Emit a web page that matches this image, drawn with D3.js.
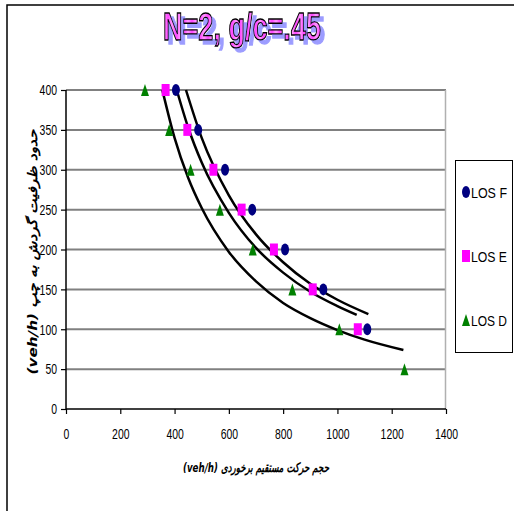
<!DOCTYPE html>
<html>
<head>
<meta charset="utf-8">
<script src="https://cdn.jsdelivr.net/npm/d3@7"></script>
<style>
  html, body { margin: 0; padding: 0; background: #fff; }
  svg { display: block; }
</style>
</head>
<body>
<svg id="chart" width="514" height="511"></svg>
<script>
// ---- data ----
const titleText = "N=2, g/c=.45";
const xTickValues = [0, 200, 400, 600, 800, 1000, 1200, 1400];
const yTickValues = [0, 50, 100, 150, 200, 250, 300, 350, 400];
const capacity = [400, 350, 300, 250, 200, 150, 100, 50];
const losF = [405, 487, 586, 686, 807, 948, 1110];
const losE = [367, 447, 543, 647, 766, 909, 1075];
const losD = [291, 380, 459, 567, 688, 834, 1007, 1247];
// trend lines, points
const trendFx = [442, 500, 600, 700, 800, 900, 1000, 1114];
const trendFy = [400, 340, 268, 219, 184, 157, 137, 119];
const trendEx = [408, 450, 500, 600, 700, 800, 900, 1000, 1071];
const trendEy = [400, 353, 309, 246, 202, 171, 147, 129, 118];
const trendDx = [355, 400, 450, 500, 600, 700, 800, 900, 1000, 1100, 1243];
const trendDy = [400, 340, 290, 252, 197, 160, 133, 114, 99, 87, 74];
const legendLabels = ["LOS F", "LOS E", "LOS D"];
const xTitle = "(veh/h) حجم حرکت مستقیم برخوردی";
const yTitle = "(veh/h) حدود ظرفیت گردش به چپ";

const svg = d3.select("#chart");
const x = d3.scaleLinear().domain([0, 1400]).range([66, 446]);
const y = d3.scaleLinear().domain([0, 400]).range([409, 90]);
const narrow = "'Liberation Sans Narrow', 'Liberation Sans', Arial, sans-serif";

// outer border
svg.append("path").attr("d", "M7,511V5H514").attr("fill", "none")
  .attr("stroke", "#000").attr("stroke-width", 1.5);

// defs: title gradient, title shadow, plot clip
const defs = svg.append("defs");
const grad = defs.append("linearGradient").attr("id", "tg")
  .attr("x1", 0).attr("x2", 8).attr("y1", 0).attr("y2", 0)
  .attr("spreadMethod", "repeat").attr("gradientUnits", "userSpaceOnUse");
grad.append("stop").attr("offset", "0").attr("stop-color", "#ff44ff");
grad.append("stop").attr("offset", "0.5").attr("stop-color", "#ff99ff");
grad.append("stop").attr("offset", "1").attr("stop-color", "#ff44ff");
const sh = defs.append("filter").attr("id", "tshadow")
  .attr("x", "-10%").attr("y", "-20%").attr("width", "130%").attr("height", "150%");
sh.append("feDropShadow").attr("dx", 4).attr("dy", 4).attr("stdDeviation", 0.6)
  .attr("flood-color", "#9c9cff").attr("flood-opacity", 1);
defs.append("clipPath").attr("id", "plotclip").append("rect")
  .attr("x", 66).attr("y", 88).attr("width", 380).attr("height", 322);

// title (WordArt-like)
svg.append("text").attr("x", 163).attr("y", 40)
  .attr("font-family", narrow).attr("font-weight", "bold").attr("font-size", 38)
  .attr("textLength", 158).attr("lengthAdjust", "spacingAndGlyphs")
  .attr("fill", "url(#tg)").attr("stroke", "#000").attr("stroke-width", 1.3)
  .attr("filter", "url(#tshadow)")
  .text(titleText);

// gridlines
svg.append("g").selectAll("line").data(yTickValues.filter(d => d > 0)).join("line")
  .attr("x1", x(0)).attr("x2", x(1400)).attr("y1", d => y(d)).attr("y2", d => y(d))
  .attr("stroke", "#808080").attr("stroke-width", 2);
// right plot border
svg.append("line").attr("x1", x(1400) - 0.5).attr("x2", x(1400) - 0.5)
  .attr("y1", y(400)).attr("y2", y(0)).attr("stroke", "#b0b0b0").attr("stroke-width", 1.5);

// axes
const yAxis = svg.append("g").attr("transform", `translate(${x(0)},0)`)
  .call(d3.axisLeft(y).tickValues(yTickValues).tickFormat(d3.format("d"))
    .tickSize(5).tickSizeOuter(0).tickPadding(4));
const xAxis = svg.append("g").attr("transform", `translate(0,${y(0)})`)
  .call(d3.axisBottom(x).tickValues(xTickValues).tickFormat(d3.format("d"))
    .tickSize(5).tickSizeOuter(0).tickPadding(14));
[yAxis, xAxis].forEach(a => {
  a.select(".domain").attr("stroke", "#000").attr("stroke-width", 1.5);
  a.selectAll(".tick line").attr("stroke", "#000").attr("stroke-width", 1.2);
  a.selectAll("text").attr("font-family", narrow).attr("font-size", 15).attr("fill", "#000")
    .attr("lengthAdjust", "spacingAndGlyphs")
    .each(function() { const n = this.textContent.length; d3.select(this).attr("textLength", n * 5.8); });
});
xAxis.select(".domain").attr("d", `M${x(0)},0H${x(1400)}`);
yAxis.select(".domain").attr("d", `M0,${y(400)}V${y(0)}`);

// axis titles
svg.append("text").attr("x", 256).attr("y", 472).attr("text-anchor", "middle")
  .attr("font-family", "'DejaVu Sans', sans-serif").attr("font-weight", "bold")
  .attr("font-style", "italic").attr("font-size", 13)
  .attr("textLength", 146).attr("lengthAdjust", "spacingAndGlyphs").text(xTitle);
svg.append("text").attr("transform", "translate(37,252) rotate(-90)")
  .attr("text-anchor", "middle")
  .attr("font-family", "'DejaVu Sans', sans-serif").attr("font-weight", "bold")
  .attr("font-style", "italic").attr("font-size", 13)
  .attr("textLength", 245).attr("lengthAdjust", "spacingAndGlyphs").text(yTitle);

// trend lines
const line = d3.line().x(d => x(d[0])).y(d => y(d[1])).curve(d3.curveMonotoneX);
const trends = [
  d3.zip(trendFx, trendFy),
  d3.zip(trendEx, trendEy),
  d3.zip(trendDx, trendDy)
];
svg.append("g").attr("clip-path", "url(#plotclip)").selectAll("path").data(trends).join("path")
  .attr("d", line).attr("fill", "none").attr("stroke", "#000").attr("stroke-width", 2.5);

// markers
const mw = 8, mh = 12;
const circ = (g, cx, cy) => g.append("ellipse").attr("cx", cx).attr("cy", cy)
  .attr("rx", mw / 2).attr("ry", mh / 2).attr("fill", "#000080");
const sq = (g, cx, cy) => g.append("rect").attr("x", cx - mw / 2).attr("y", cy - mh / 2)
  .attr("width", mw).attr("height", mh).attr("fill", "#ff00ff");
const tri = (g, cx, cy) => g.append("path")
  .attr("d", `M${cx},${cy - mh / 2}L${cx + mw / 2},${cy + mh / 2}L${cx - mw / 2},${cy + mh / 2}Z`)
  .attr("fill", "#008000");

const mg = svg.append("g");
losF.forEach((v, i) => circ(mg, x(v), y(capacity[i])));
losE.forEach((v, i) => sq(mg, x(v), y(capacity[i])));
losD.forEach((v, i) => tri(mg, x(v), y(capacity[i])));

// legend
const lg = svg.append("g");
lg.append("rect").attr("x", 455.5).attr("y", 160.5).attr("width", 57).attr("height", 192)
  .attr("fill", "#fff").attr("stroke", "#000").attr("stroke-width", 1);
const makers = [circ, sq, tri];
legendLabels.forEach((lab, i) => {
  const cy = 192 + i * 64;
  makers[i](lg, 466, cy);
  lg.append("text").attr("x", 471).attr("y", cy + 5.5)
    .attr("font-family", narrow).attr("font-size", 14)
    .attr("textLength", 36).attr("lengthAdjust", "spacingAndGlyphs").text(lab);
});
</script>
</body>
</html>
